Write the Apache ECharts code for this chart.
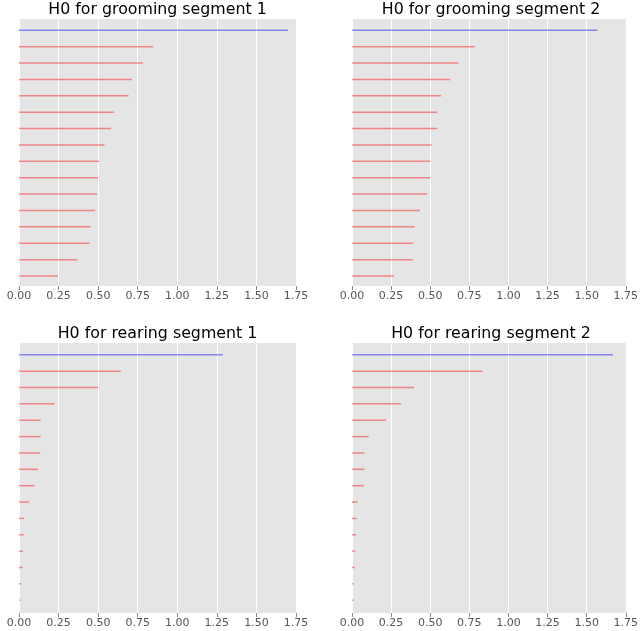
<!DOCTYPE html>
<html>
<head>
<meta charset="utf-8">
<script src="https://cdn.jsdelivr.net/npm/echarts@6/dist/echarts.min.js"></script>
<style>
  html, body { margin: 0; padding: 0; background: #fff; }
  #chart { width: 641px; height: 631px; }
</style>
</head>
<body>
<div id="chart"></div>
<script>
// H0 persistence barcodes: each bar runs from birth 0 to its death value.
// The first bar of each diagram is the longest-lived component.
const titles = [
  'H0 for grooming segment 1',
  'H0 for grooming segment 2',
  'H0 for rearing segment 1',
  'H0 for rearing segment 2'
];

const groomingSeg1 = [1.699, 0.848, 0.782, 0.715, 0.692, 0.601, 0.582, 0.540,
                      0.506, 0.500, 0.493, 0.481, 0.453, 0.447, 0.369, 0.245];
const groomingSeg2 = [1.569, 0.785, 0.680, 0.629, 0.569, 0.546, 0.546, 0.508,
                      0.501, 0.499, 0.478, 0.434, 0.401, 0.390, 0.390, 0.269];
const rearingSeg1  = [1.288, 0.643, 0.500, 0.223, 0.137, 0.137, 0.133, 0.120,
                      0.099, 0.065, 0.032, 0.030, 0.025, 0.023, 0.015, 0.008];
const rearingSeg2  = [1.668, 0.835, 0.397, 0.313, 0.218, 0.107, 0.080, 0.080,
                      0.076, 0.036, 0.031, 0.025, 0.021, 0.017, 0.010, 0.010];

const xTicks = [0, 0.25, 0.5, 0.75, 1.0, 1.25, 1.5, 1.75];

const panels = [groomingSeg1, groomingSeg2, rearingSeg1, rearingSeg2];

const gridBoxes = [
  { left: 19,  top: 19,  width: 277, height: 267 },
  { left: 352, top: 19,  width: 278, height: 267 },
  { left: 19,  top: 343, width: 277, height: 270 },
  { left: 352, top: 343, width: 278, height: 270 }
];
const yRanges = [
  { min: -0.69, max: 15.61 },
  { min: -0.69, max: 15.61 },
  { min: -0.72, max: 15.78 },
  { min: -0.72, max: 15.78 }
];

const ESSENTIAL = 'rgba(0, 0, 255, 0.42)';
const FINITE = 'rgba(255, 0, 0, 0.42)';

function renderBar(params, api) {
  const death = api.value(0);
  const row = api.value(1);
  const start = api.coord([0, row]);
  const end = api.coord([death, row]);
  return {
    type: 'line',
    shape: { x1: start[0], y1: start[1], x2: end[0], y2: end[1] },
    style: { stroke: row === 0 ? ESSENTIAL : FINITE, lineWidth: 1.5 }
  };
}

const option = {
  animation: false,
  backgroundColor: '#ffffff',
  title: titles.map((t, i) => ({
    text: t,
    left: gridBoxes[i].left + gridBoxes[i].width / 2,
    top: gridBoxes[i].top - 17,
    padding: 0,
    textAlign: 'center',
    textStyle: { fontFamily: 'DejaVu Sans', fontSize: 15.8, fontWeight: 'normal', color: '#000' }
  })),
  grid: gridBoxes.map(b => Object.assign({
    show: true, backgroundColor: '#e5e5e5', borderWidth: 0, containLabel: false
  }, b)),
  xAxis: panels.map((_, i) => ({
    type: 'value',
    gridIndex: i,
    position: 'bottom',
    min: xTicks[0],
    max: xTicks[xTicks.length - 1],
    interval: 0.25,
    axisLine: { show: false, onZero: false },
    axisTick: { show: true, length: 4, lineStyle: { color: '#888', width: 1 } },
    axisLabel: {
      margin: 5,
      fontFamily: 'DejaVu Sans', fontSize: 11, color: '#555',
      formatter: v => v.toFixed(2)
    },
    splitLine: { show: true, lineStyle: { color: '#ffffff', width: 1 } }
  })),
  yAxis: panels.map((_, i) => ({
    type: 'value',
    gridIndex: i,
    inverse: true,
    min: yRanges[i].min,
    max: yRanges[i].max,
    show: false,
    splitLine: { show: false }
  })),
  series: panels.map((vals, i) => ({
    type: 'custom',
    xAxisIndex: i,
    yAxisIndex: i,
    renderItem: renderBar,
    encode: { x: 0, y: 1 },
    data: vals.map((v, k) => [v, k])
  }))
};

echarts.init(document.getElementById('chart'), null, { renderer: 'canvas' }).setOption(option);
</script>
</body>
</html>
